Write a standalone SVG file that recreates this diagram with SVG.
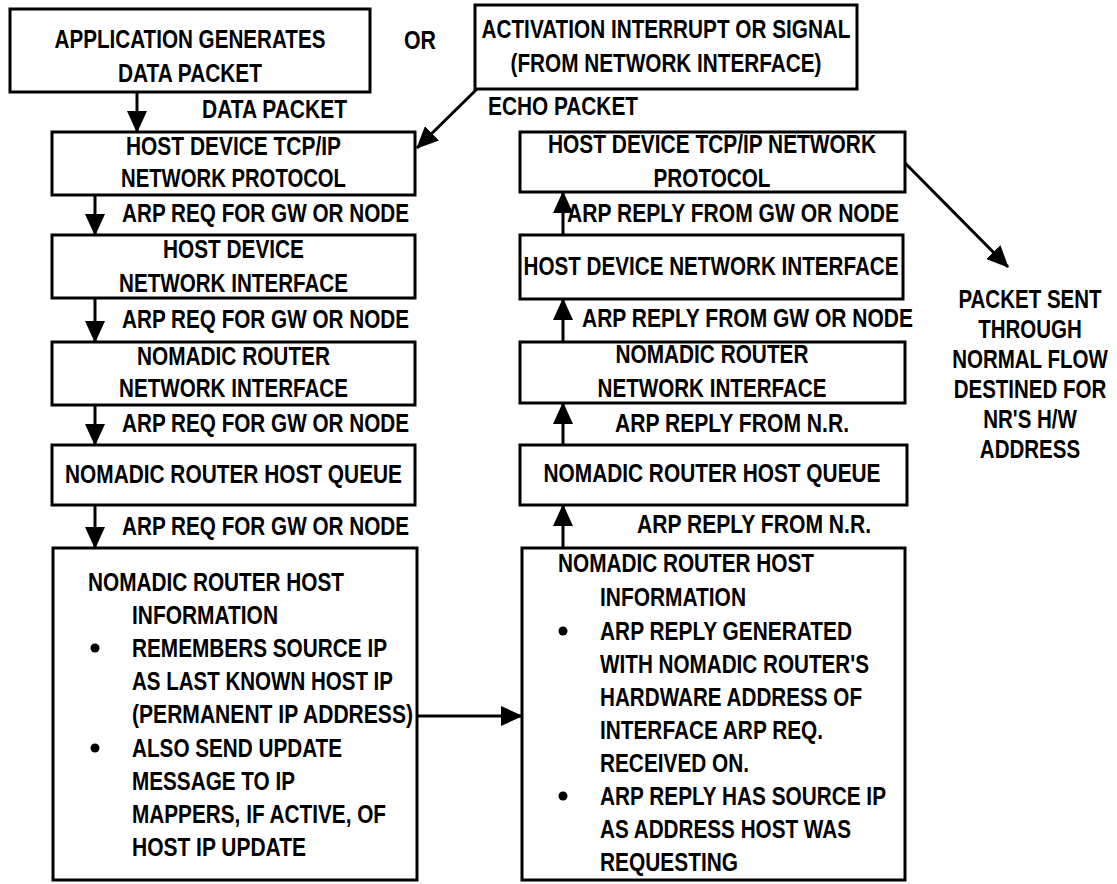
<svg xmlns="http://www.w3.org/2000/svg" width="1117" height="884" viewBox="0 0 1117 884">
<style>
text{font-family:"Liberation Sans",Arial,sans-serif;font-size:25.5px;font-weight:bold;fill:#000}
.c{text-anchor:middle}
.box{fill:#fff;stroke:#000;stroke-width:3}
.ln{fill:none;stroke:#000;stroke-width:3;marker-end:url(#ah)}
</style>
<defs>
<marker id="ah" viewBox="0 0 22 20" refX="21" refY="10" markerWidth="22" markerHeight="20" orient="auto" markerUnits="userSpaceOnUse">
<path d="M0,0 L22,10 L0,20 z" fill="#000"/>
</marker>
</defs>
<rect width="1117" height="884" fill="#fff"/>

<g id="app">
<rect class="box" x="10" y="9" width="360" height="83"/>
<text class="c" x="190" y="48" textLength="271" lengthAdjust="spacingAndGlyphs">APPLICATION GENERATES</text>
<text class="c" x="190" y="82" textLength="144" lengthAdjust="spacingAndGlyphs">DATA PACKET</text>
</g>
<g id="or"><text class="c" x="420" y="49" textLength="32" lengthAdjust="spacingAndGlyphs">OR</text></g>
<g id="activation">
<rect class="box" x="475" y="5" width="382" height="84"/>
<text class="c" x="666" y="38" textLength="369" lengthAdjust="spacingAndGlyphs">ACTIVATION INTERRUPT OR SIGNAL</text>
<text class="c" x="666" y="72" textLength="311" lengthAdjust="spacingAndGlyphs">(FROM NETWORK INTERFACE)</text>
</g>

<g id="l1">
<rect class="box" x="52" y="132" width="363" height="63"/>
<text class="c" x="233.5" y="155" textLength="215" lengthAdjust="spacingAndGlyphs">HOST DEVICE TCP/IP</text>
<text class="c" x="233.5" y="187" textLength="225" lengthAdjust="spacingAndGlyphs">NETWORK PROTOCOL</text>
</g>
<g id="l2">
<rect class="box" x="52" y="235" width="363" height="63"/>
<text class="c" x="233.5" y="258" textLength="141" lengthAdjust="spacingAndGlyphs">HOST DEVICE</text>
<text class="c" x="233.5" y="292" textLength="229" lengthAdjust="spacingAndGlyphs">NETWORK INTERFACE</text>
</g>
<g id="l3">
<rect class="box" x="52" y="342" width="363" height="63"/>
<text class="c" x="233.5" y="365" textLength="193" lengthAdjust="spacingAndGlyphs">NOMADIC ROUTER</text>
<text class="c" x="233.5" y="397" textLength="229" lengthAdjust="spacingAndGlyphs">NETWORK INTERFACE</text>
</g>
<g id="l4">
<rect class="box" x="52" y="445" width="363" height="60"/>
<text class="c" x="233.5" y="483" textLength="337" lengthAdjust="spacingAndGlyphs">NOMADIC ROUTER HOST QUEUE</text>
</g>
<g id="l5">
<rect class="box" x="53" y="548" width="364" height="332"/>
<text x="88" y="591" textLength="256" lengthAdjust="spacingAndGlyphs">NOMADIC ROUTER HOST</text>
<text x="132" y="624" textLength="146" lengthAdjust="spacingAndGlyphs">INFORMATION</text>
<circle cx="95" cy="648" r="4.5"/>
<text x="132" y="657" textLength="255" lengthAdjust="spacingAndGlyphs">REMEMBERS SOURCE IP</text>
<text x="132" y="690" textLength="261" lengthAdjust="spacingAndGlyphs">AS LAST KNOWN HOST IP</text>
<text x="132" y="723" textLength="281" lengthAdjust="spacingAndGlyphs">(PERMANENT IP ADDRESS)</text>
<circle cx="95" cy="748" r="4.5"/>
<text x="132" y="757" textLength="210" lengthAdjust="spacingAndGlyphs">ALSO SEND UPDATE</text>
<text x="132" y="790" textLength="163" lengthAdjust="spacingAndGlyphs">MESSAGE TO IP</text>
<text x="132" y="823" textLength="254" lengthAdjust="spacingAndGlyphs">MAPPERS, IF ACTIVE, OF</text>
<text x="132" y="856" textLength="174" lengthAdjust="spacingAndGlyphs">HOST IP UPDATE</text>
</g>

<g id="r1">
<rect class="box" x="520" y="132" width="385" height="60"/>
<text class="c" x="712" y="153" textLength="328" lengthAdjust="spacingAndGlyphs">HOST DEVICE TCP/IP NETWORK</text>
<text class="c" x="712" y="187" textLength="117" lengthAdjust="spacingAndGlyphs">PROTOCOL</text>
</g>
<g id="r2">
<rect class="box" x="520" y="235" width="383" height="64"/>
<text class="c" x="711" y="275" textLength="375" lengthAdjust="spacingAndGlyphs">HOST DEVICE NETWORK INTERFACE</text>
</g>
<g id="r3">
<rect class="box" x="520" y="342" width="385" height="61"/>
<text class="c" x="712" y="363" textLength="193" lengthAdjust="spacingAndGlyphs">NOMADIC ROUTER</text>
<text class="c" x="712" y="397" textLength="229" lengthAdjust="spacingAndGlyphs">NETWORK INTERFACE</text>
</g>
<g id="r4">
<rect class="box" x="520" y="445" width="387" height="60"/>
<text class="c" x="712" y="482" textLength="337" lengthAdjust="spacingAndGlyphs">NOMADIC ROUTER HOST QUEUE</text>
</g>
<g id="r5">
<rect class="box" x="522" y="548" width="383" height="332"/>
<text x="558" y="572" textLength="256" lengthAdjust="spacingAndGlyphs">NOMADIC ROUTER HOST</text>
<text x="600" y="606" textLength="146" lengthAdjust="spacingAndGlyphs">INFORMATION</text>
<circle cx="563" cy="631" r="4.5"/>
<text x="600" y="640" textLength="252" lengthAdjust="spacingAndGlyphs">ARP REPLY GENERATED</text>
<text x="600" y="673" textLength="269" lengthAdjust="spacingAndGlyphs">WITH NOMADIC ROUTER'S</text>
<text x="600" y="706" textLength="262" lengthAdjust="spacingAndGlyphs">HARDWARE ADDRESS OF</text>
<text x="600" y="739" textLength="223" lengthAdjust="spacingAndGlyphs">INTERFACE ARP REQ.</text>
<text x="600" y="772" textLength="149" lengthAdjust="spacingAndGlyphs">RECEIVED ON.</text>
<circle cx="563" cy="796" r="4.5"/>
<text x="600" y="805" textLength="286" lengthAdjust="spacingAndGlyphs">ARP REPLY HAS SOURCE IP</text>
<text x="600" y="838" textLength="251" lengthAdjust="spacingAndGlyphs">AS ADDRESS HOST WAS</text>
<text x="600" y="871" textLength="138" lengthAdjust="spacingAndGlyphs">REQUESTING</text>
</g>

<g id="packet-sent" transform="translate(1030,0) scale(0.805,1)">
<text class="c" x="0" y="308">PACKET SENT</text>
<text class="c" x="0" y="338">THROUGH</text>
<text class="c" x="0" y="368">NORMAL FLOW</text>
<text class="c" x="0" y="398">DESTINED FOR</text>
<text class="c" x="0" y="428">NR'S H/W</text>
<text class="c" x="0" y="458">ADDRESS</text>
</g>

<g id="connectors">
<path class="ln" d="M137,92 L137,132"/>
<path class="ln" d="M477,89 L417,148"/>
<path class="ln" d="M95,195 L95,235"/>
<path class="ln" d="M95,298 L95,342"/>
<path class="ln" d="M95,405 L95,445"/>
<path class="ln" d="M95,505 L95,548"/>
<path class="ln" d="M563,235 L563,192"/>
<path class="ln" d="M563,342 L563,299"/>
<path class="ln" d="M563,445 L563,403"/>
<path class="ln" d="M563,548 L563,505"/>
<path class="ln" d="M417,716 L522,716"/>
<path class="ln" d="M905,163 L1008,267"/>
<text x="202" y="118" textLength="145" lengthAdjust="spacingAndGlyphs">DATA PACKET</text>
<text x="488" y="115" textLength="150" lengthAdjust="spacingAndGlyphs">ECHO PACKET</text>
<text x="122" y="222" textLength="287" lengthAdjust="spacingAndGlyphs">ARP REQ FOR GW OR NODE</text>
<text x="122" y="328" textLength="287" lengthAdjust="spacingAndGlyphs">ARP REQ FOR GW OR NODE</text>
<text x="122" y="432" textLength="287" lengthAdjust="spacingAndGlyphs">ARP REQ FOR GW OR NODE</text>
<text x="122" y="535" textLength="287" lengthAdjust="spacingAndGlyphs">ARP REQ FOR GW OR NODE</text>
<text x="567" y="222" textLength="332" lengthAdjust="spacingAndGlyphs">ARP REPLY FROM GW OR NODE</text>
<text x="582" y="327" textLength="331" lengthAdjust="spacingAndGlyphs">ARP REPLY FROM GW OR NODE</text>
<text x="615" y="432" textLength="234" lengthAdjust="spacingAndGlyphs">ARP REPLY FROM N.R.</text>
<text x="637" y="533" textLength="234" lengthAdjust="spacingAndGlyphs">ARP REPLY FROM N.R.</text>
</g>
</svg>
